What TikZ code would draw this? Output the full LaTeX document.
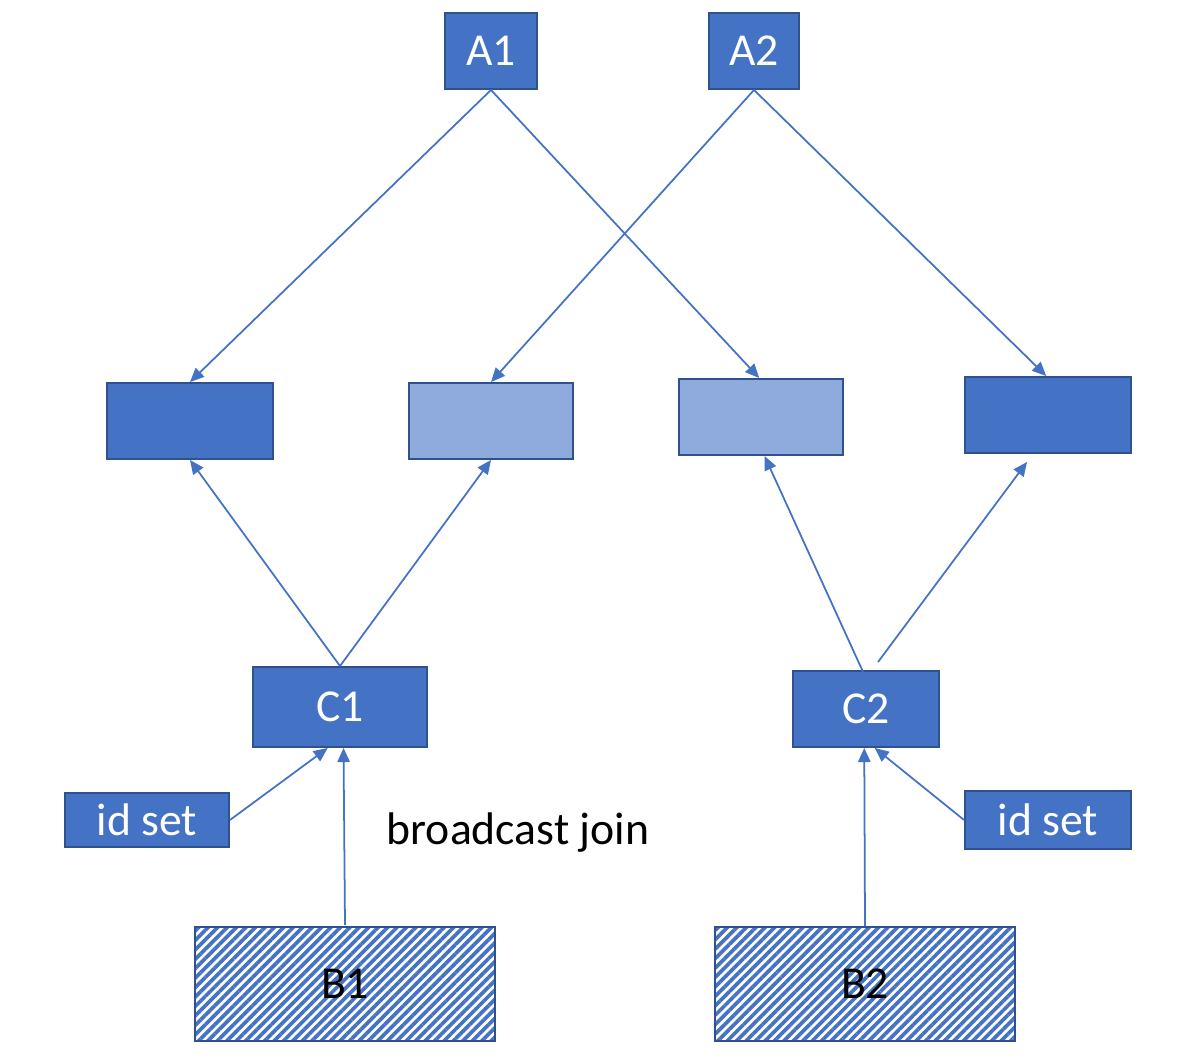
\documentclass[tikz,border=0pt]{standalone}
\usepackage{fontspec}
\setmainfont{Carlito}
\usetikzlibrary{arrows.meta,patterns.meta}

\definecolor{boxblue}{HTML}{4472C4}
\definecolor{lightblue}{HTML}{8FAADC}
\definecolor{edgeblue}{HTML}{2F528F}

\tikzset{
    box/.style={draw=edgeblue, line width=1.1pt, fill=boxblue, text=white, inner sep=0pt,
        font=\fontsize{26}{30}\selectfont},
    lightbox/.style={box, fill=lightblue},
    hatchbox/.style={draw=edgeblue, line width=1.1pt, fill=white, inner sep=0pt,
        pattern={Lines[angle=45,distance=3.8pt,line width=2.1pt]}, pattern color=boxblue,
        font=\fontsize{26}{30}\selectfont},
    link/.style={draw=boxblue, line width=1pt, -{Triangle[length=8pt,width=7pt]}}
}

\begin{document}
\begin{tikzpicture}[x=0.02cm, y=-0.02cm]
    \useasboundingbox (0,0) rectangle (1196,1060);
    % top row
    \node [box, minimum width=1.84cm, minimum height=1.52cm] (A1) at (491,51) {A1};
    \node [box, minimum width=1.80cm, minimum height=1.52cm] (A2) at (754,51) {A2};
    % middle row
    \node [box, minimum width=3.32cm, minimum height=1.52cm] (M1) at (190,421) {};
    \node [lightbox, minimum width=3.28cm, minimum height=1.52cm] (M2) at (491,421) {};
    \node [lightbox, minimum width=3.28cm, minimum height=1.52cm] (M3) at (761,417) {};
    \node [box, minimum width=3.32cm, minimum height=1.52cm] (M4) at (1048,415) {};
    % joins
    \node [box, minimum width=3.48cm, minimum height=1.60cm] (C1) at (340,707) {C1};
    \node [box, minimum width=2.92cm, minimum height=1.52cm] (C2) at (866,709) {C2};
    \node [box, minimum width=3.28cm, minimum height=1.08cm] (idL) at (147,820) {id set};
    \node [box, minimum width=3.32cm, minimum height=1.16cm] (idR) at (1048,820) {id set};
    \node [font=\fontsize{26}{30}\selectfont] (bj) at (518,833) {broadcast join};
    % inputs
    \node [hatchbox, minimum width=6cm, minimum height=2.28cm] (B1) at (345,984) {B1};
    \node [hatchbox, minimum width=6cm, minimum height=2.28cm] (B2) at (865,984) {B2};
    % arrows
    \draw [link] (A1.south) -- (M1.north);
    \draw [link] (A1.south) -- ([xshift=-1]M3.north);
    \draw [link] (A2.south) -- (M2.north);
    \draw [link] (A2.south) -- ([xshift=-1]M4.north);
    \draw [link] (C1.north) -- (M1.south);
    \draw [link] (C1.north) -- (M2.south);
    \draw [link] ([shift={(-2,4)}]C2.north) -- ([xshift=2]M3.south);
    \draw [link] ([shift={(12,-8)}]C2.north) -- ([shift={(-21,8)}]M4.south);
    \draw [link] (idL.east) -- ([xshift=-7]C1.south);
    \draw [link] (B1.north) -- ([xshift=2]C1.south);
    \draw [link] (B2.north) -- ([xshift=-1]C2.south);
    \draw [link] (idR.west) -- ([xshift=5]C2.south);
\end{tikzpicture}
\end{document}
